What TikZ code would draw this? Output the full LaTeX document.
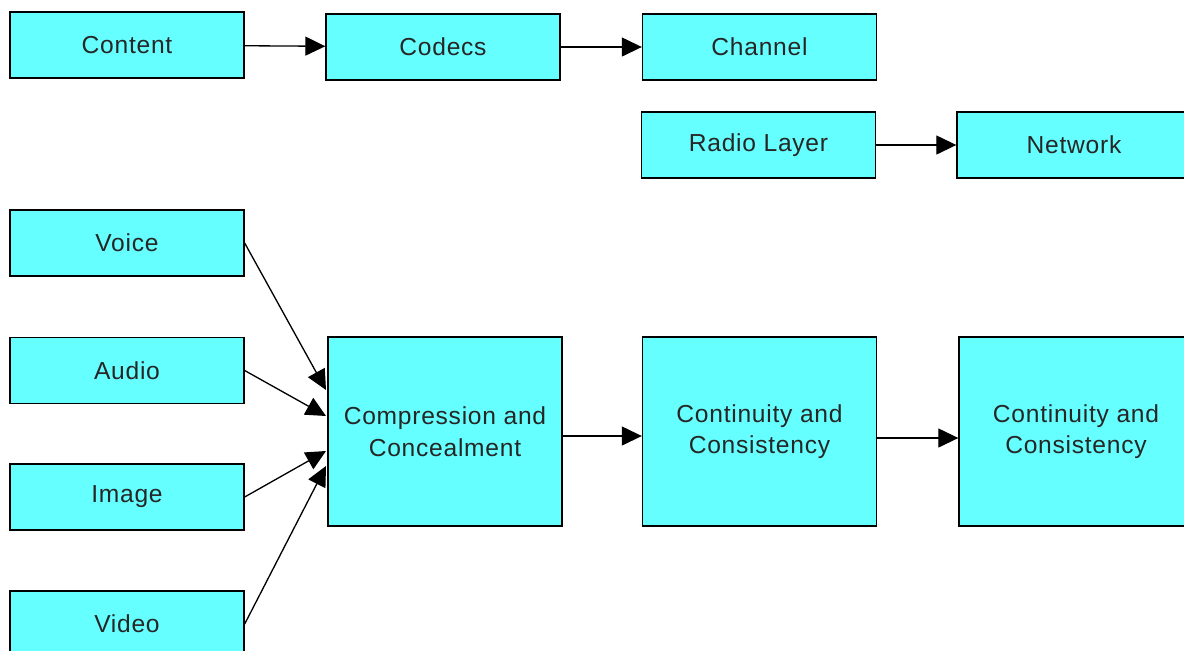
\documentclass[tikz,border=0pt]{standalone}
\usepackage{fontspec}
\setmainfont{Liberation Sans}[LetterSpace=3]
\usepackage{tikz}
\usetikzlibrary{arrows.meta}

\definecolor{boxcyan}{RGB}{102,255,255}

\tikzset{
	block/.style={shape=rectangle, draw=black, fill=boxcyan, line width=0.8pt,
		minimum width=4.68cm, minimum height=1.32cm, inner sep=0pt, align=center,
		font=\fontsize{14}{18}\selectfont, text=black!85},
	bigblock/.style={block, minimum height=3.78cm},
	link/.style={-{Triangle[length=4mm,width=3.8mm]}, line width=0.75pt}
}

\begin{document}
\begin{tikzpicture}[x=0.02cm,y=-0.02cm]

	\useasboundingbox (0,0) rectangle (1184,650);
	\clip (0,0) rectangle (1184,650);

	\node[block] (content) at (127, 45)     {Content};
	\node[block] (codecs) at (443, 47)     {Codecs};
	\node[block] (channel) at (759.5, 47)     {Channel};
	\node[block] (radio) at (758.5, 145)     {Radio Layer};
	\node[block] (network) at (1074, 145)     {Network};

	\node[block] (voice) at (127, 243)     {Voice};
	\node[block] (audio) at (127, 370.5)     {Audio};
	\node[block] (image) at (127, 497)     {Image};
	\node[block] (video) at (127, 624)     {Video};

	\node[bigblock] (compress) at (445, 431.5)     {Compression and\\Concealment};
	\node[bigblock] (cont) at (759.5, 431.5)     {Continuity and\\Consistency};
	\node[bigblock] (contb) at (1076, 431.5)     {Continuity and\\Consistency};

	\coordinate (in1) at (326, 390);
	\coordinate (in2) at (326, 416);
	\coordinate (in3) at (326, 451);
	\coordinate (in4) at (326, 466);

	\path[link] (content) edge (codecs);
	\path[link] (codecs) edge (channel);
	\path[link] (radio) edge (network);
	\path[link] (voice.east) edge (in1);
	\path[link] (audio.east) edge (in2);
	\path[link] (image.east) edge (in3);
	\path[link] (video.east) edge (in4);
	\path[link] ([yshift=-0.09cm]compress.east) edge ([yshift=-0.09cm]cont.west);
	\path[link] ([yshift=-0.13cm]cont.east) edge ([yshift=-0.13cm]contb.west);

\end{tikzpicture}
\end{document}
